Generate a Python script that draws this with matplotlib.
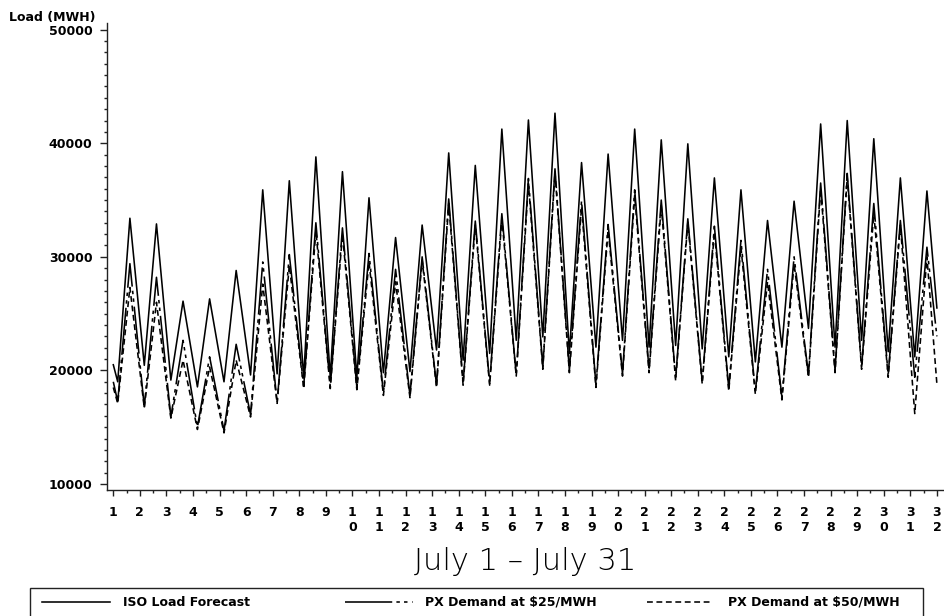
import matplotlib
matplotlib.use("Agg")
import matplotlib.pyplot as plt
from matplotlib.lines import Line2D
from matplotlib.patches import Rectangle
from matplotlib.ticker import MultipleLocator

# ---- data: hourly load, July 1 - July 31 (MWH) ----
days = list(range(1, 32))
trough_hour = 4      # early-morning minimum
peak_hour = 15       # afternoon maximum

iso_start, iso_end = 20500, 25500
iso_troughs = [19000, 20450, 19150, 18550, 19000, 19600, 19700, 19400, 19400, 19400,
               19800, 19900, 21800, 20900, 21500, 22650, 22950, 21500, 22050, 22650,
               22050, 22200, 21900, 21200, 20750, 22050, 23700, 22050, 22650, 21650,
               21200]
iso_peaks = [33400, 32900, 26100, 26300, 28800, 35900, 36700, 38800, 37500, 35200,
             31700, 32800, 39150, 38050, 41250, 42050, 42650, 38300, 39050, 41250,
             40300, 39950, 36950, 35900, 33200, 34900, 41700, 42000, 40400, 36950,
             35800]

px25_start, px25_end = 19000, 23000
px25_troughs = [17250, 16800, 15900, 15000, 14700, 16100, 17200, 18600, 18550, 18550,
                18000, 17800, 18700, 18850, 18850, 19600, 20300, 20000, 18700, 19700,
                20000, 19300, 19000, 18400, 18100, 17650, 19600, 20000, 20300, 19600,
                19400]
px25_peaks = [29400, 28200, 22650, 21200, 22300, 29550, 30200, 33000, 32550, 30300,
              28900, 30000, 35100, 33150, 33800, 36900, 37750, 34950, 32850, 35900,
              35000, 33350, 32700, 31450, 28900, 30000, 36500, 37350, 34700, 33200,
              30850]

px50_start, px50_end = 18500, 18800
px50_troughs = [17100, 16700, 15800, 14800, 14500, 15900, 17100, 18400, 18400, 18300,
                17800, 17600, 18500, 18700, 18700, 19500, 20100, 19800, 18500, 19500,
                19800, 19100, 18800, 18200, 17900, 17400, 19400, 19800, 20100, 19400,
                16200]
px50_peaks = [27300, 26000, 20900, 20300, 20900, 27600, 29250, 32300, 32000, 29550,
              27800, 29700, 34700, 32800, 33350, 36450, 37450, 34400, 32350, 35400,
              34500, 33050, 32200, 30850, 27800, 29400, 36000, 37000, 33800, 32800,
              30000]

series_labels = ["ISO Load Forecast", "PX Demand at $25/MWH", "PX Demand at $50/MWH"]
x_tick_days = list(range(1, 33))
y_ticks = [10000, 20000, 30000, 40000, 50000]


def build(start, troughs, peaks, end):
    xs, ys = [1.0], [start]
    for d, t, p in zip(days, troughs, peaks):
        xs += [d + trough_hour / 24, d + peak_hour / 24]
        ys += [t, p]
    xs.append(32.0)
    ys.append(end)
    return xs, ys


W, H = 945, 616
fig = plt.figure(figsize=(W / 100, H / 100), dpi=100)
fig.patch.set_facecolor("white")

ax_l, ax_r, ax_b, ax_t = 107, 943, 490, 22.7
ax = fig.add_axes([ax_l / W, 1 - ax_b / H, (ax_r - ax_l) / W, (ax_b - ax_t) / H])

LW = 1.15
styles = [
    dict(color="black", lw=LW, linestyle="-"),
    dict(color="black", lw=LW, linestyle=(0, tuple(v / LW for v in (34, 3, 2.5, 3, 2.5, 3.5)))),
    dict(color="black", lw=LW, linestyle=(0, tuple(v / LW for v in (4.2, 2.6)))),
]

data = [
    build(iso_start, iso_troughs, iso_peaks, iso_end),
    build(px25_start, px25_troughs, px25_peaks, px25_end),
    build(px50_start, px50_troughs, px50_peaks, px50_end),
]
for (xs, ys), st in zip(data, styles):
    ax.plot(xs, ys, solid_joinstyle="round", dash_joinstyle="round", **st)

ax.set_xlim(0.763, 32.23)
ax.set_ylim(9472, 50616)

for s in ("top", "right"):
    ax.spines[s].set_visible(False)
for s in ("left", "bottom"):
    ax.spines[s].set_linewidth(1.0)
    ax.spines[s].set_color("#222222")

tick_font = dict(family="DejaVu Sans", weight="bold", size=9)

ax.set_yticks(y_ticks)
ax.set_yticklabels([str(v) for v in y_ticks], fontdict=tick_font)
ax.yaxis.set_minor_locator(MultipleLocator(1000))
ax.tick_params(axis="y", which="major", direction="out", length=5, width=1.0, pad=5.5, color="#222222")
ax.tick_params(axis="y", which="minor", direction="out", length=2.3, width=1.0, color="#222222")

ax.set_xticks(x_tick_days)
ax.set_xticklabels(["\n".join(str(d)) for d in x_tick_days], fontdict=tick_font, linespacing=1.2)
ax.xaxis.set_minor_locator(MultipleLocator(0.5))
ax.tick_params(axis="x", which="major", direction="out", length=4.3, width=1.0, pad=7, color="#222222")
ax.tick_params(axis="x", which="minor", direction="out", length=2.2, width=1.0, color="#222222")
for lab in ax.get_xticklabels():
    lab.set_verticalalignment("top")

# axis caption and title
fig.text(9 / W, 1 - 17 / H, "Load (MWH)", ha="left", va="center", **tick_font)
fig.text((ax_l + ax_r) / 2 / W, 1 - 561 / H, "July 1 \u2013 July 31",
         ha="center", va="center", family="DejaVu Sans", weight="light", size=22)

# legend box along the bottom
fig.add_artist(Rectangle((30 / W, 1 - 640 / H), (923 - 30) / W, (640 - 588.5) / H,
                         transform=fig.transFigure, fill=False, lw=1.0, edgecolor="#222222"))
leg_y = 1 - 602 / H
samples = [(42, 110, 123), (345, 413, 425), (647, 712, 728)]
for (x0, x1, tx), st, lab in zip(samples, styles, series_labels):
    fig.add_artist(Line2D([x0 / W, x1 / W], [leg_y, leg_y], transform=fig.transFigure, **st))
    fig.text(tx / W, leg_y, lab, ha="left", va="center", **tick_font)

fig.savefig("out.png", dpi=100, facecolor="white")
